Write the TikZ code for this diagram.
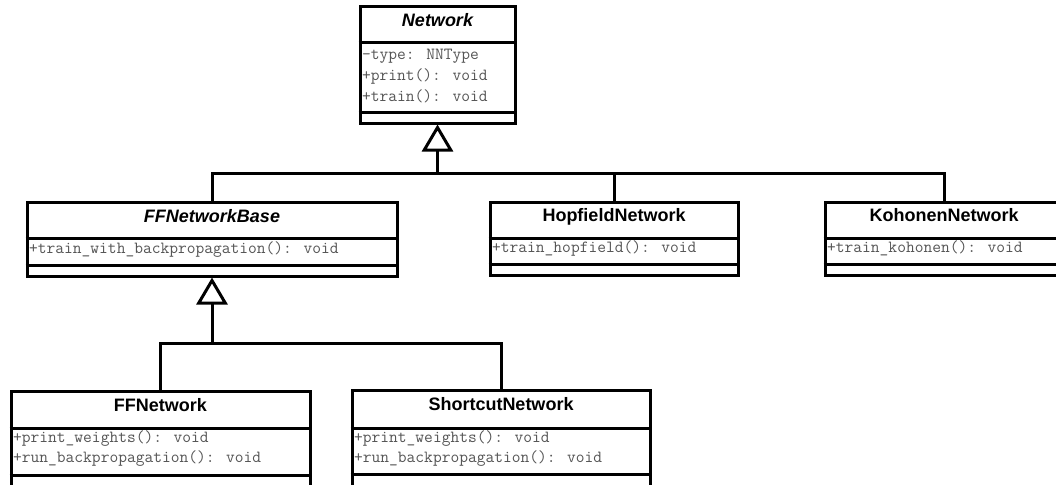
\documentclass[tikz,border=0pt]{standalone}
\usepackage{fontspec}
\setmainfont{Liberation Sans}
\usetikzlibrary{arrows.meta,fit}
\definecolor{attrgray}{RGB}{85,85,85}
\tikzset{
  classbox/.style={draw=black, line width=3pt, inner sep=0pt, fill=white},
  divider/.style={draw=black, line width=3pt},
  conn/.style={draw=black, line width=3pt, line join=miter},
  gen/.style={-{Triangle[length=27pt,width=31pt,fill=white]}},
  ctitle/.style={anchor=base, inner sep=0pt, font=\fontsize{18}{18}\selectfont\bfseries},
  atitle/.style={ctitle, font=\fontsize{18}{18}\selectfont\bfseries\itshape},
  attr/.style={anchor=base west, inner sep=0pt, text=attrgray, font=\ttfamily\fontsize{17}{17}\selectfont}
}
\begin{document}
\begin{tikzpicture}[x=1pt,y=-1pt]
\useasboundingbox (0,0) rectangle (1056,484);
\clip (0,0) rectangle (1056,484);
\fill[white] (0,0) rectangle (1056,484);

% Network
\node[classbox, fit={(360,7) (515,123)}] (net) {};
\draw[divider] (net.west |- 0,43) -- (net.east |- 0,43);
\draw[divider] (net.west |- 0,113) -- (net.east |- 0,113);
\node[atitle] (netT) at (437.5,27) {Network};
\node[attr] (netA1) at (362,60) {-type: NNType};
\node[attr] (netA2) at (362,81) {+print(): void};
\node[attr] (netA3) at (362,102) {+train(): void};

% FFNetworkBase
\node[classbox, fit={(27,202) (397,276)}] (ffb) {};
\draw[divider] (ffb.west |- 0,238) -- (ffb.east |- 0,238);
\draw[divider] (ffb.west |- 0,265) -- (ffb.east |- 0,265);
\node[atitle] (ffbT) at (212,222) {FFNetworkBase};
\node[attr] (ffbA1) at (29,253) {+train\_with\_backpropagation(): void};

% HopfieldNetwork
\node[classbox, fit={(490,202) (738,275)}] (hop) {};
\draw[divider] (hop.west |- 0,238) -- (hop.east |- 0,238);
\draw[divider] (hop.west |- 0,264) -- (hop.east |- 0,264);
\node[ctitle] (hopT) at (614,221) {HopfieldNetwork};
\node[attr] (hopA1) at (492,252) {+train\_hopfield(): void};

% KohonenNetwork
\node[classbox, fit={(825,202) (1063,275)}] (koh) {};
\draw[divider] (koh.west |- 0,238) -- (koh.east |- 0,238);
\draw[divider] (koh.west |- 0,264) -- (koh.east |- 0,264);
\node[ctitle] (kohT) at (944,221) {KohonenNetwork};
\node[attr] (kohA1) at (827,252) {+train\_kohonen(): void};

% FFNetwork
\node[classbox, fit={(11,391) (310,500)}] (ffn) {};
\draw[divider] (ffn.west |- 0,428) -- (ffn.east |- 0,428);
\draw[divider] (ffn.west |- 0,475) -- (ffn.east |- 0,475);
\node[ctitle] (ffnT) at (160.5,411) {FFNetwork};
\node[attr] (ffnA1) at (13,442) {+print\_weights(): void};
\node[attr] (ffnA2) at (13,462) {+run\_backpropagation(): void};

% ShortcutNetwork
\node[classbox, fit={(352,390) (650,500)}] (sc) {};
\draw[divider] (sc.west |- 0,428) -- (sc.east |- 0,428);
\draw[divider] (sc.west |- 0,474) -- (sc.east |- 0,474);
\node[ctitle] (scT) at (501,410) {ShortcutNetwork};
\node[attr] (scA1) at (354,442) {+print\_weights(): void};
\node[attr] (scA2) at (354,462) {+run\_backpropagation(): void};

% generalisations
\coordinate (b1) at (437.5,173);
\coordinate (b2) at (212,343);
\draw[conn] (ffb.north) |- (b1);
\draw[conn] (hop.north) |- (b1);
\draw[conn] (koh.north) |- (b1);
\draw[conn, gen] (b1) -- (net.south);
\draw[conn] (ffn.north) |- (b2);
\draw[conn] (sc.north) |- (b2);
\draw[conn, gen] (b2) -- (ffb.south);
\end{tikzpicture}
\end{document}
